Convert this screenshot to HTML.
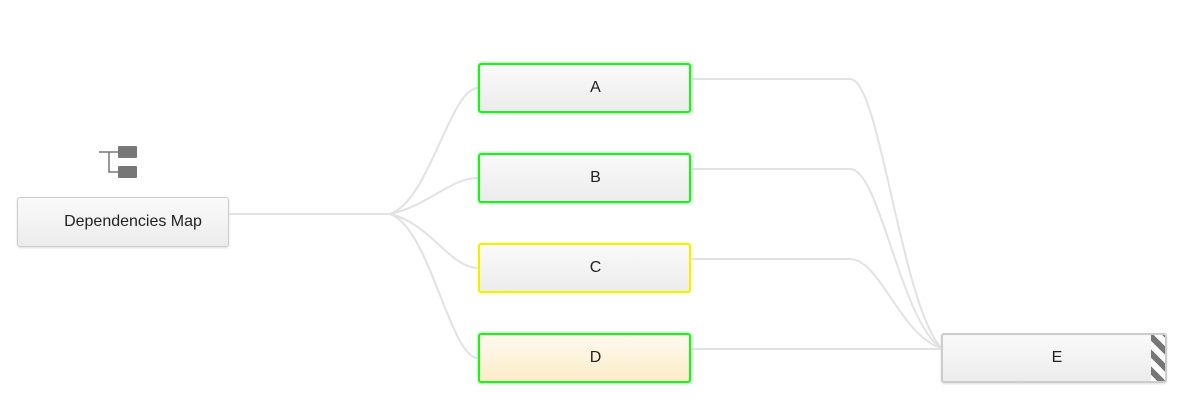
<!DOCTYPE html>
<html><head><style>
body{margin:0;width:1190px;height:412px;background:#fff;position:relative;overflow:hidden;font-family:"Liberation Sans",sans-serif;}
.n{position:absolute;box-sizing:border-box;border-radius:3px;background:linear-gradient(#fafafa,#ececec);display:flex;align-items:center;justify-content:center;font-size:16px;color:#222;}
.g{border:2px solid #1cf31c;box-shadow:0 0 3px #7f7;padding-left:22px;}
.y{border:2px solid #f0f000;box-shadow:0 0 3px #ff8;padding-left:22px;}
.p{border:1px solid #ccc;box-shadow:0 1px 2px #ddd;}
</style></head><body>
<svg width="1190" height="412" style="position:absolute;left:0;top:0">
<g fill="none" stroke="#e2e2e2" stroke-width="2">
<path d="M229 214 H390"/>
<path d="M390 214 C430 200,450 88,478 88"/>
<path d="M390 214 C430 205,450 178,478 178"/>
<path d="M390 214 C430 223,450 268,478 268"/>
<path d="M390 214 C430 228,450 358,478 358"/>
<path d="M691 79 H850 C880 79,900 300,941 348"/>
<path d="M691 169 H850 C880 169,900 320,941 348"/>
<path d="M691 259 H850 C880 259,900 335,941 348"/>
<path d="M691 349 H941"/>
</g>
<g fill="#777" stroke="#777">
<rect x="118" y="146" width="19" height="12" rx="1" stroke="none"/>
<rect x="118" y="166" width="19" height="12" rx="1" stroke="none"/>
<path d="M99 152 H118 M109 152 V172 H118" fill="none" stroke-width="1.5"/>
</g>
</svg>
<div class="n p" style="left:17px;top:197px;width:212px;height:50px;padding-left:20px">Dependencies Map</div>
<div class="n g" style="left:478px;top:63px;width:213px;height:50px">A</div>
<div class="n g" style="left:478px;top:153px;width:213px;height:50px">B</div>
<div class="n y" style="left:478px;top:243px;width:213px;height:50px">C</div>
<div class="n g" style="left:478px;top:333px;width:213px;height:50px;background:linear-gradient(#fffaf0,#fbecc8)">D</div>
<div class="n p" style="left:941px;top:333px;width:226px;height:50px;border:2px solid #ccc;overflow:hidden;padding-left:6px">E
<div style="position:absolute;right:0;top:0;width:14px;height:48px;background:repeating-linear-gradient(45deg,#fff 0 6px,#777 6px 12px)"></div></div>
</body></html>
